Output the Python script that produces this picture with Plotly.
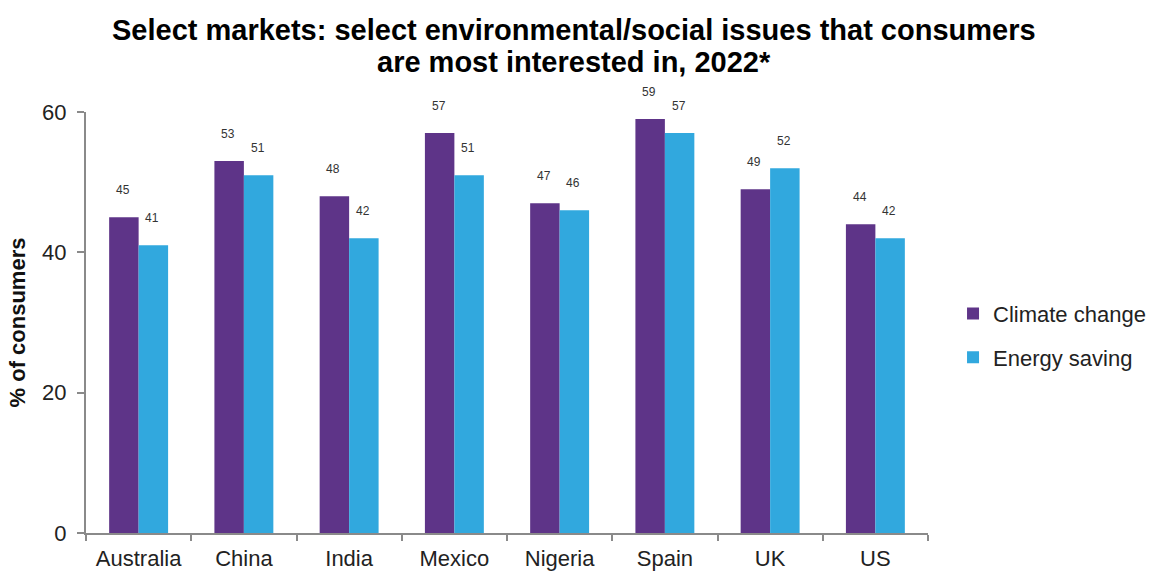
import plotly.graph_objects as go

markets = ["Australia", "China", "India", "Mexico", "Nigeria", "Spain", "UK", "US"]
climate_change = [45, 53, 48, 57, 47, 59, 49, 44]
energy_saving = [41, 51, 42, 51, 46, 57, 52, 42]
y_ticks = [0, 20, 40, 60]
title_lines = ["Select markets: select environmental/social issues that consumers",
               "are most interested in, 2022*"]

PURPLE = "#5E3488"
BLUE = "#31A8DE"
FONT = "Liberation Sans, Arial, sans-serif"

fig = go.Figure()
fig.add_trace(go.Bar(x=markets, y=climate_change, name="Climate change",
                     marker=dict(color=PURPLE, line=dict(width=0)),
                     legendgroup="a"))
fig.add_trace(go.Bar(x=markets, y=energy_saving, name="Energy saving",
                     marker=dict(color=BLUE, line=dict(width=0)),
                     legendgroup="b"))

bar_off = 14.8
for m, v in zip(markets, climate_change):
    fig.add_annotation(x=m, y=v, text=str(v), showarrow=False, xshift=-bar_off - 1,
                       yshift=27, font=dict(size=12, color="#333", family=FONT))
for m, v in zip(markets, energy_saving):
    fig.add_annotation(x=m, y=v, text=str(v), showarrow=False, xshift=bar_off - 1,
                       yshift=27, font=dict(size=12, color="#333", family=FONT))

# title lines as paper annotations
for i, line in enumerate(title_lines):
    fig.add_annotation(xref="paper", yref="paper", x=0.5796, y=1.195 - i * 0.076,
                       text="<b>" + line + "</b>", showarrow=False,
                       xanchor="center", yanchor="middle",
                       font=dict(size=29, color="black", family=FONT))

fig.update_layout(
    width=1158, height=572,
    margin=dict(l=86, r=230, t=112, b=39, autoexpand=False),
    paper_bgcolor="white", plot_bgcolor="white",
    barmode="group", bargap=0.44, bargroupgap=0,
    font=dict(family=FONT, color="#222"),
    legend=dict(xref="container", yref="container", x=0.823, xanchor="left",
                y=0.413, yanchor="middle",
                font=dict(size=22, color="#222", family=FONT),
                traceorder="grouped", tracegroupgap=12,
                itemclick=False, bgcolor="rgba(0,0,0,0)"),
    xaxis=dict(showline=True, linecolor="#8a8a8a", linewidth=2, automargin=False,
               ticks="outside", tickson="boundaries", ticklen=6, tickcolor="#8a8a8a",
               tickwidth=2, tickfont=dict(size=22, color="#222", family=FONT),
               ticklabelstandoff=5, showgrid=False),
    yaxis=dict(range=[0, 60], tickvals=y_ticks, showline=True, linecolor="#8a8a8a",
               linewidth=2, ticks="outside", ticklen=7, tickcolor="#8a8a8a", tickwidth=2,
               automargin=False, ticklabelstandoff=6,
               tickfont=dict(size=22, color="#222", family=FONT), showgrid=False,
               zeroline=False,
               title=dict(text="<b>% of consumers</b>", standoff=10,
                          font=dict(size=22, color="#111", family=FONT))),
)

fig.write_html("out.html")
